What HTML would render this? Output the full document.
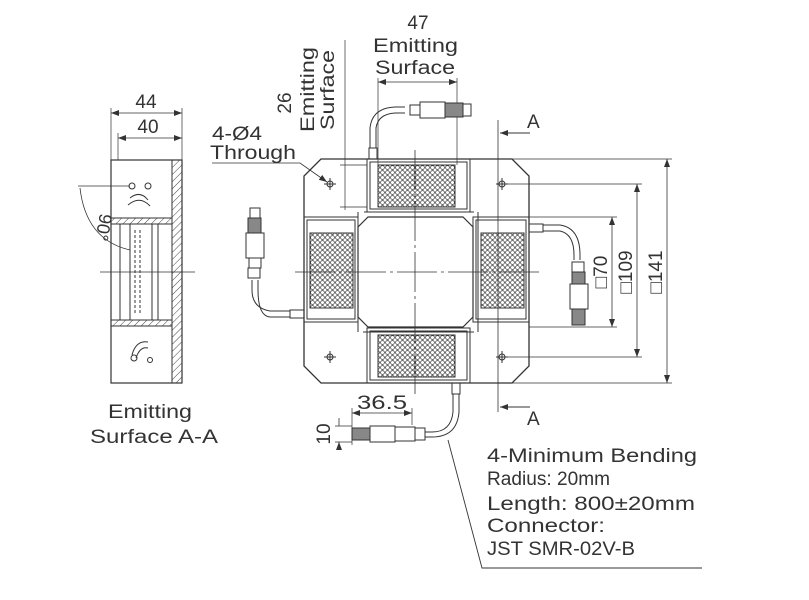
<!DOCTYPE html>
<html><head><style>
html,body{margin:0;padding:0;background:#fff}
svg{display:block}
text{font-family:"Liberation Sans",sans-serif;fill:#333}
</style></head><body>
<svg width="809" height="600" viewBox="0 0 809 600" xmlns="http://www.w3.org/2000/svg">
<defs>
<pattern id="dots" width="5" height="5" patternUnits="userSpaceOnUse">
<circle cx="2.5" cy="2.5" r="1.9" fill="none" stroke="#333" stroke-width="0.7"/>
</pattern>
<pattern id="hatch" width="5" height="5" patternUnits="userSpaceOnUse" patternTransform="rotate(45)">
<line x1="0" y1="0" x2="0" y2="5" stroke="#444" stroke-width="1"/>
</pattern>
<marker id="ar" markerWidth="8" markerHeight="6" refX="8" refY="3" orient="auto-start-reverse" markerUnits="userSpaceOnUse">
<path d="M0,0 L8,3 L0,6z" fill="#333"/>
</marker>
</defs>
<g stroke="#333" fill="none" stroke-width="1">
<path d="M321,159 L512,159 L529,176 L529,366 L512,383 L321,383 L304,366 L304,176 Z" stroke-width="1.3"/>
<rect x="367" y="159" width="103" height="53"/><rect x="370" y="162" width="97" height="47"/>
<rect x="378" y="165" width="77" height="42" fill="url(#dots)"/>
<rect x="367" y="328" width="103" height="55"/><rect x="370" y="331" width="97" height="49"/>
<rect x="378" y="335" width="77" height="42" fill="url(#dots)"/>
<rect x="304" y="217" width="54" height="105"/><rect x="307" y="220" width="48" height="99"/>
<rect x="310" y="233" width="43" height="75" fill="url(#dots)"/>
<rect x="473" y="217" width="56" height="105"/><rect x="476" y="220" width="50" height="99"/>
<rect x="481" y="233" width="43" height="75" fill="url(#dots)"/>
<path d="M368,217 L463,217 L473,227 L473,317 L463,327 L368,327 L358,317 L358,227 Z" stroke-width="1.2"/>
<path d="M364,212 L474,212 M363,332 L474,332 M358,212 L358,332 M478,212 L478,332" />
<g stroke-width="1">
<circle cx="330" cy="184" r="3"/><path d="M324,184h12M330,178v12"/>
<circle cx="502" cy="184" r="3"/><path d="M496,184h12M502,178v12"/>
<circle cx="330" cy="357" r="3"/><path d="M324,357h12M330,351v12"/>
<circle cx="502" cy="357" r="3"/><path d="M496,357h12M502,351v12"/>
</g>
<path d="M415,150 L415,395 M295,272 L540,272" stroke-dasharray="40,4,3,4" stroke-width="0.8"/>
<path d="M498,120 L498,412" stroke-width="0.8"/>
<path d="M530,133 L500,133" marker-end="url(#ar)"/>
<path d="M530,407 L500,407" marker-end="url(#ar)"/>
<path d="M502,159 L672,159 M502,383 L672,383 M502,184 L642,184 M502,357 L642,357 M529,217 L617,217 M529,327 L617,327" stroke-width="0.7"/>
<path d="M612,217 L612,327" marker-start="url(#ar)" marker-end="url(#ar)" stroke-width="0.8"/>
<path d="M637,184 L637,357" marker-start="url(#ar)" marker-end="url(#ar)" stroke-width="0.8"/>
<path d="M667,159 L667,383" marker-start="url(#ar)" marker-end="url(#ar)" stroke-width="0.8"/>
<path d="M378,78 L378,165 M457,78 L457,165" stroke-width="0.7"/>
<path d="M378,82 L457,82" marker-start="url(#ar)" marker-end="url(#ar)" stroke-width="0.8"/>
<path d="M345,40 L345,210 M340,165 L367,165 M340,207 L367,207" stroke-width="0.7"/>
<path d="M212,163 L300,163 L327,182" marker-end="url(#ar)" stroke-width="0.8"/>
<rect x="369" y="148" width="8" height="11"/>
<path d="M370,148 L370,128 Q372,108 395,107 L405,107 M376,148 L376,128 Q378,114 395,113 L405,113"/>
<rect x="410" y="105" width="10" height="10"/><rect x="420" y="102" width="25" height="16"/><rect x="445" y="103" width="18" height="14" fill="#888"/><rect x="463" y="104" width="8" height="12"/>
<rect x="290" y="310" width="14" height="8"/>
<path d="M290,311 L270,311 Q252,308 252,290 L252,280 M290,317 L270,317 Q258,316 258,290 L258,280"/>
<rect x="248" y="268" width="12" height="10"/><rect x="246" y="233" width="18" height="25"/><rect x="248" y="218" width="13" height="15" fill="#888"/><rect x="250" y="208" width="10" height="10"/>
<rect x="249" y="258" width="12" height="10"/>
<rect x="529" y="224" width="14" height="8"/>
<path d="M543,225 L560,225 Q580,228 580,255 L580,260 M543,231 L560,231 Q574,234 574,255 L574,260"/>
<rect x="572" y="262" width="12" height="10"/><rect x="572" y="272" width="13" height="12" fill="#888"/><rect x="570" y="284" width="18" height="25"/><rect x="572" y="309" width="13" height="16" fill="#888"/>
<rect x="452" y="383" width="8" height="11"/>
<path d="M453,394 L453,412 Q451,432 432,432 L425,432 M459,394 L459,412 Q457,437 432,437 L425,437"/>
<rect x="415" y="428" width="10" height="12"/><rect x="395" y="427" width="20" height="14"/><rect x="370" y="426" width="25" height="16"/><rect x="352" y="428" width="18" height="12" fill="#888"/>
<path d="M352,408 L352,445 M412,408 L412,425" stroke-width="0.7"/>
<path d="M352,413 L412,413" marker-start="url(#ar)" marker-end="url(#ar)" stroke-width="0.8"/>
<path d="M335,426 L352,426 M335,442 L352,442" stroke-width="0.7"/>
<path d="M339,418 L339,426 M339,450 L339,442" marker-end="url(#ar)" stroke-width="0.8"/>
<path d="M448,440 L482,568 L702,568" stroke-width="0.9"/>
<rect x="111" y="160" width="71" height="223" stroke-width="1.2"/>
<rect x="172" y="160" width="10" height="223" fill="url(#hatch)"/>
<path d="M111,218 L172,218 M111,224 L172,224 M111,320 L172,320 M111,326 L172,326"/>
<rect x="111" y="218" width="61" height="6" fill="url(#hatch)"/>
<rect x="111" y="320" width="61" height="6" fill="url(#hatch)"/>
<rect x="120" y="224" width="10" height="96"/><rect x="130" y="224" width="22" height="96"/><rect x="152" y="224" width="6" height="96"/>
<path d="M135,230 L135,315 M140,230 L140,315" stroke-dasharray="3,2"/>
<circle cx="132" cy="186" r="3"/><circle cx="148" cy="186" r="3"/>
<path d="M130,198 Q140,190 148,200 M128,205 Q140,195 150,206"/>
<path d="M132,355 Q136,340 148,342 M136,358 Q140,346 148,348"/><circle cx="134" cy="358" r="3"/><circle cx="150" cy="360" r="2.5"/>
<path d="M100,272 L195,272" stroke-width="0.8"/>
<path d="M78,186 L130,186" stroke-width="0.7"/>
<path d="M80,188 Q86,240 130,250" stroke-width="0.8"/>
<path d="M111,108 L111,160 M182,108 L182,160 M118,133 L118,160" stroke-width="0.7"/>
<path d="M111,113 L182,113" marker-start="url(#ar)" marker-end="url(#ar)" stroke-width="0.8"/>
<path d="M118,138 L182,138" marker-start="url(#ar)" marker-end="url(#ar)" stroke-width="0.8"/>
</g>
<g font-size="19">
<text x="418" y="29" text-anchor="middle">47</text>
<text x="373" y="52" textLength="85" lengthAdjust="spacingAndGlyphs">Emitting</text>
<text x="375" y="74" textLength="80" lengthAdjust="spacingAndGlyphs">Surface</text>
<text transform="translate(291,103) rotate(-90)" text-anchor="middle">26</text>
<text transform="translate(314,132) rotate(-90)" textLength="85" lengthAdjust="spacingAndGlyphs">Emitting</text>
<text transform="translate(334,130) rotate(-90)" textLength="80" lengthAdjust="spacingAndGlyphs">Surface</text>
<text x="212" y="140" textLength="50" lengthAdjust="spacingAndGlyphs">4-Ø4</text>
<text x="210" y="159" textLength="86" lengthAdjust="spacingAndGlyphs">Through</text>
<text x="527" y="128">A</text>
<text x="527" y="425">A</text>
<text transform="translate(607,272) rotate(-90)" text-anchor="middle">□70</text>
<text transform="translate(632,272) rotate(-90)" text-anchor="middle">□109</text>
<text transform="translate(662,272) rotate(-90)" text-anchor="middle">□141</text>
<text x="357" y="409" textLength="50" lengthAdjust="spacingAndGlyphs">36.5</text>
<text transform="translate(330,434) rotate(-90)" text-anchor="middle">10</text>
<text x="146" y="108" text-anchor="middle">44</text>
<text x="148" y="133" text-anchor="middle">40</text>
<text transform="translate(100,213) rotate(100)" font-size="18">90°</text>
<text x="108" y="418" textLength="84" lengthAdjust="spacingAndGlyphs">Emitting</text>
<text x="90" y="443" textLength="128" lengthAdjust="spacingAndGlyphs">Surface A-A</text>
<text x="487" y="462" textLength="210" lengthAdjust="spacingAndGlyphs">4-Minimum Bending</text>
<text x="487" y="485" textLength="123" lengthAdjust="spacingAndGlyphs">Radius: 20mm</text>
<text x="487" y="510" textLength="208" lengthAdjust="spacingAndGlyphs">Length: 800±20mm</text>
<text x="487" y="532" textLength="118" lengthAdjust="spacingAndGlyphs">Connector:</text>
<text x="487" y="555" textLength="148" lengthAdjust="spacingAndGlyphs">JST SMR-02V-B</text>
</g>
</svg>
</body></html>
